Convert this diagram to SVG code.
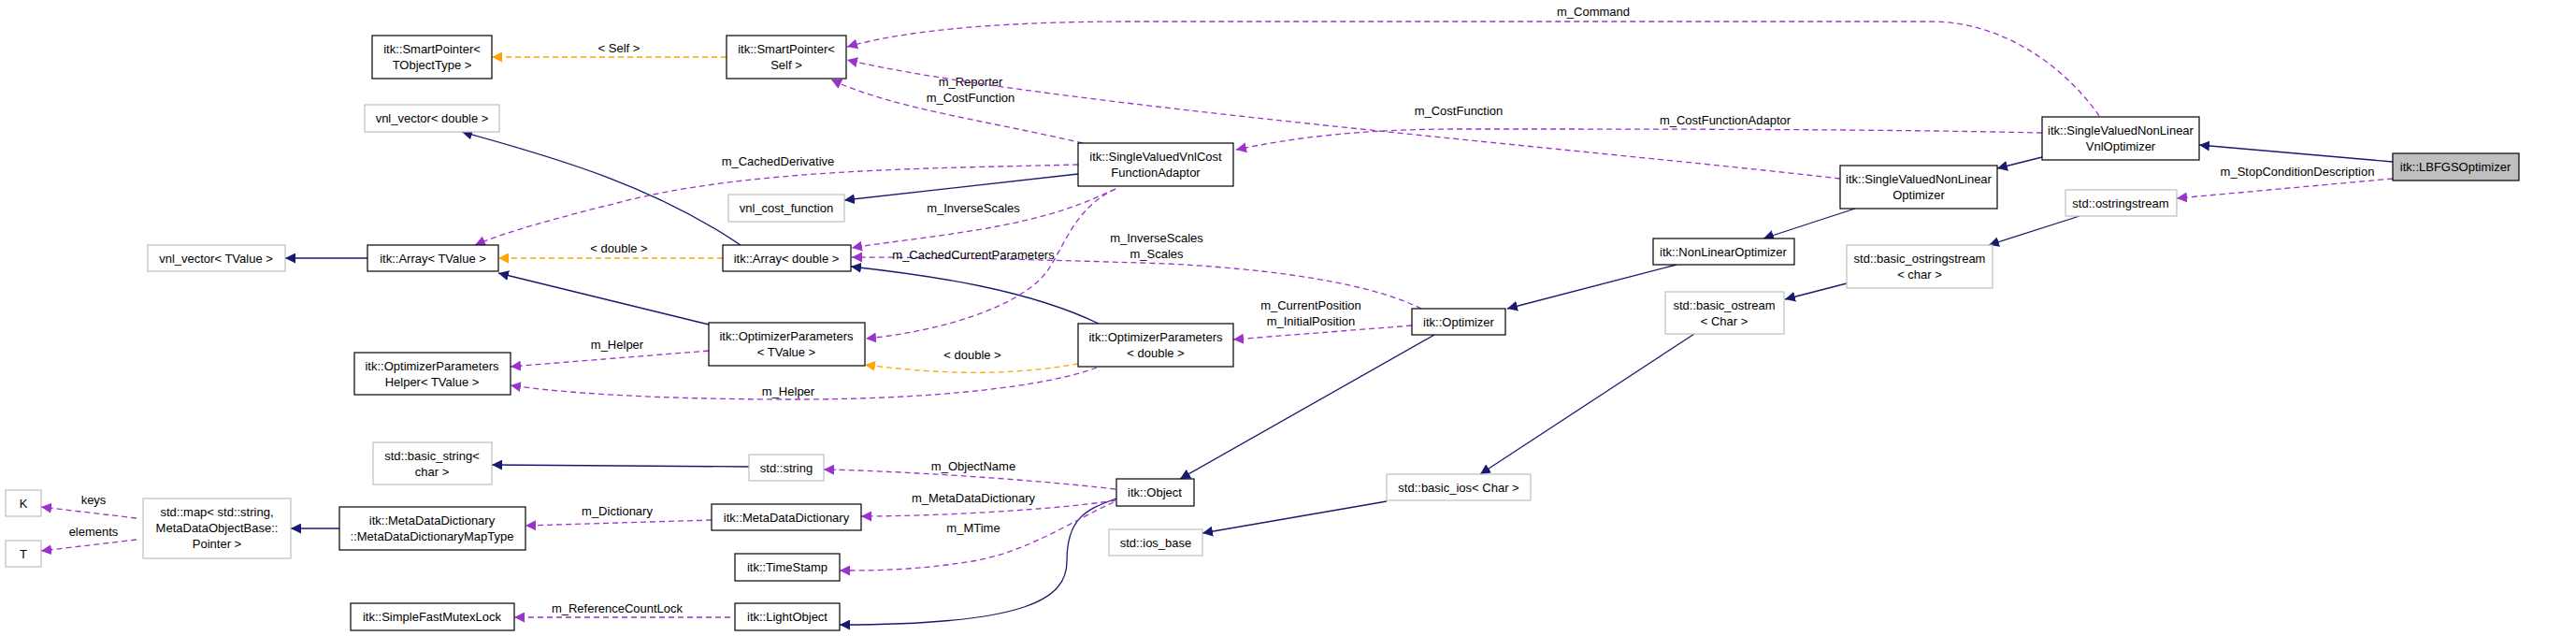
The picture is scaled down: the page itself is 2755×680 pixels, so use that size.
<svg xmlns="http://www.w3.org/2000/svg" width="2755" height="680" viewBox="0 0 2755 680">
<style>
text{font-family:"Liberation Sans",Arial,sans-serif;font-size:13px;fill:#000;text-anchor:middle}
.b{fill:#fff;stroke:#000;stroke-width:1.2}
.g{fill:#fff;stroke:#bfbfbf;stroke-width:1.2}
.s{fill:#bfbfbf;stroke:#000;stroke-width:1.2}
.n{fill:none;stroke:#191970;stroke-width:1.3;marker-end:url(#an)}
.p{fill:none;stroke:#9a32cd;stroke-width:1.3;stroke-dasharray:6,4;marker-end:url(#ap)}
.o{fill:none;stroke:#ffa500;stroke-width:1.3;stroke-dasharray:6,4;marker-end:url(#ao)}
</style>
<defs>
<marker id="an" viewBox="0 0 10 10" refX="10" refY="5" markerWidth="11" markerHeight="11" markerUnits="userSpaceOnUse" orient="auto"><path d="M0,0L10,5L0,10z" fill="#191970"/></marker>
<marker id="ap" viewBox="0 0 10 10" refX="10" refY="5" markerWidth="11" markerHeight="11" markerUnits="userSpaceOnUse" orient="auto"><path d="M0,0L10,5L0,10z" fill="#9a32cd"/></marker>
<marker id="ao" viewBox="0 0 10 10" refX="10" refY="5" markerWidth="11" markerHeight="11" markerUnits="userSpaceOnUse" orient="auto"><path d="M0,0L10,5L0,10z" fill="#ffa500"/></marker>
</defs>
<g id="connectors">
<path class="n" d="M2559,173L2352,155"/>
<path class="n" d="M2184,168L2136,180"/>
<path class="n" d="M1984,223L1886,255"/>
<path class="n" d="M1793,283L1612,330"/>
<path class="n" d="M1534,358L1262,512"/>
<path class="n" d="M1194,533C1160,545 1141,555 1141,600C1141,640 1100,668 898,668"/>
<path class="n" d="M2224,231L2127,262"/>
<path class="n" d="M1975,303L1909,320"/>
<path class="n" d="M1812,357L1583,507"/>
<path class="n" d="M1483,536L1286,570"/>
<path class="n" d="M1153,186L903,214"/>
<path class="n" d="M792,262C700,200 600,170 494,141"/>
<path class="n" d="M393,276L305,276"/>
<path class="n" d="M758,347L533,292"/>
<path class="n" d="M1175,346C1100,310 1000,295 910,285"/>
<path class="n" d="M801,499L526,497"/>
<path class="n" d="M363,565L311,565"/>
<path class="o" d="M777,61L526,61"/><text x="662" y="56">&lt; Self &gt;</text>
<path class="o" d="M773,276L533,276"/><text x="662" y="270">&lt; double &gt;</text>
<path class="o" d="M1153,389C1100,398 1034,404 925,390"/><text x="1040" y="384">&lt; double &gt;</text>
<path class="p" d="M2245,124C2215,80 2150,23 2064,23L1210,23C1050,23 960,35 906,50"/><text x="1704" y="17">m_Command</text>
<path class="p" d="M1158,153C1060,130 950,115 889,85"/><text x="1038" y="92">m_Reporter</text><text x="1038" y="109">m_CostFunction</text>
<path class="p" d="M1968,191C1700,160 1100,110 906,64"/><text x="1560" y="123">m_CostFunction</text>
<path class="p" d="M2184,142C2000,138 1800,138 1560,138C1450,138 1380,148 1322,160"/><text x="1845" y="133">m_CostFunctionAdaptor</text>
<path class="p" d="M1153,176C1000,180 800,180 660,217C600,232 540,248 508,262"/><text x="832" y="177">m_CachedDerivative</text>
<path class="p" d="M1193,202C1150,222 1118,233 1050,245C990,255 940,260 911,265"/><text x="1041" y="227">m_InverseScales</text>
<path class="p" d="M1520,330C1480,310 1400,290 1250,282C1100,277 980,275 911,275"/><text x="1237" y="259">m_InverseScales</text><text x="1237" y="276">m_Scales</text>
<path class="p" d="M1193,202C1150,222 1140,260 1120,290C1090,330 1000,355 926,362"/><text x="1041" y="277">m_CachedCurrentParameters</text>
<path class="p" d="M1510,348L1319,363"/><text x="1402" y="331">m_CurrentPosition</text><text x="1402" y="348">m_InitialPosition</text>
<path class="p" d="M758,375L546,392"/><text x="660" y="373">m_Helper</text>
<path class="p" d="M1173,393C1120,413 1000,427 850,427C700,427 600,420 546,412"/><text x="843" y="423">m_Helper</text>
<path class="p" d="M1193,523C1100,512 950,503 881,502"/><text x="1041" y="503">m_ObjectName</text>
<path class="p" d="M1193,535C1130,545 1000,552 921,552"/><text x="1041" y="537">m_MetaDataDictionary</text>
<path class="p" d="M1191,537C1150,555 1100,590 1040,600C980,610 930,610 898,610"/><text x="1041" y="569">m_MTime</text>
<path class="p" d="M761,556L562,562"/><text x="660" y="551">m_Dictionary</text>
<path class="p" d="M781,660L550,660"/><text x="660" y="655">m_ReferenceCountLock</text>
<path class="p" d="M146,554L44,542"/><text x="100" y="539">keys</text>
<path class="p" d="M146,577L44,589"/><text x="100" y="573">elements</text>
<path class="p" d="M2559,191L2328,212"/><text x="2457" y="188">m_StopConditionDescription</text>
</g>
<g id="n_lbfgs"><rect class="s" x="2559" y="164" width="135" height="29"/><text x="2626" y="183">itk::LBFGSOptimizer</text></g>
<g id="n_vnlopt"><rect class="b" x="2184" y="125" width="168" height="46"/><text x="2268" y="144">itk::SingleValuedNonLinear</text><text x="2268" y="161">VnlOptimizer</text></g>
<g id="n_svnlopt"><rect class="b" x="1968" y="177" width="168" height="46"/><text x="2052" y="196">itk::SingleValuedNonLinear</text><text x="2052" y="213">Optimizer</text></g>
<g id="n_nlopt"><rect class="b" x="1768" y="255" width="151" height="28"/><text x="1843" y="274">itk::NonLinearOptimizer</text></g>
<g id="n_ostr"><rect class="g" x="2209" y="203" width="119" height="28"/><text x="2268" y="222">std::ostringstream</text></g>
<g id="n_bostr"><rect class="g" x="1975" y="262" width="156" height="46"/><text x="2053" y="281">std::basic_ostringstream</text><text x="2053" y="298">&lt; char &gt;</text></g>
<g id="n_bos"><rect class="g" x="1781" y="312" width="127" height="45"/><text x="1844" y="331">std::basic_ostream</text><text x="1844" y="348">&lt; Char &gt;</text></g>
<g id="n_opt"><rect class="b" x="1510" y="330" width="100" height="28"/><text x="1560" y="349">itk::Optimizer</text></g>
<g id="n_bios"><rect class="g" x="1483" y="507" width="154" height="28"/><text x="1560" y="526">std::basic_ios&lt; Char &gt;</text></g>
<g id="n_iosb"><rect class="g" x="1186" y="566" width="100" height="28"/><text x="1236" y="585">std::ios_base</text></g>
<g id="n_obj"><rect class="b" x="1194" y="512" width="83" height="29"/><text x="1235" y="531">itk::Object</text></g>
<g id="n_adaptor"><rect class="b" x="1153" y="153" width="166" height="46"/><text x="1236" y="172">itk::SingleValuedVnlCost</text><text x="1236" y="189">FunctionAdaptor</text></g>
<g id="n_opd"><rect class="b" x="1153" y="346" width="166" height="46"/><text x="1236" y="365">itk::OptimizerParameters</text><text x="1236" y="382">&lt; double &gt;</text></g>
<g id="n_sps"><rect class="b" x="777" y="38" width="128" height="46"/><text x="841" y="57">itk::SmartPointer&lt;</text><text x="841" y="74"> Self &gt;</text></g>
<g id="n_spt"><rect class="b" x="398" y="38" width="128" height="46"/><text x="462" y="57">itk::SmartPointer&lt;</text><text x="462" y="74"> TObjectType &gt;</text></g>
<g id="n_vvd"><rect class="g" x="390" y="112" width="144" height="29"/><text x="462" y="131">vnl_vector&lt; double &gt;</text></g>
<g id="n_vcf"><rect class="g" x="779" y="208" width="124" height="29"/><text x="841" y="227">vnl_cost_function</text></g>
<g id="n_vvt"><rect class="g" x="158" y="262" width="147" height="28"/><text x="231" y="281">vnl_vector&lt; TValue &gt;</text></g>
<g id="n_at"><rect class="b" x="393" y="262" width="140" height="28"/><text x="463" y="281">itk::Array&lt; TValue &gt;</text></g>
<g id="n_ad"><rect class="b" x="773" y="262" width="137" height="28"/><text x="841" y="281">itk::Array&lt; double &gt;</text></g>
<g id="n_opt_t"><rect class="b" x="758" y="345" width="167" height="46"/><text x="841" y="364">itk::OptimizerParameters</text><text x="841" y="381">&lt; TValue &gt;</text></g>
<g id="n_oph"><rect class="b" x="379" y="377" width="167" height="45"/><text x="462" y="396">itk::OptimizerParameters</text><text x="462" y="413">Helper&lt; TValue &gt;</text></g>
<g id="n_bsc"><rect class="g" x="399" y="473" width="127" height="45"/><text x="462" y="492">std::basic_string&lt;</text><text x="462" y="509"> char &gt;</text></g>
<g id="n_str"><rect class="g" x="801" y="486" width="80" height="28"/><text x="841" y="505">std::string</text></g>
<g id="n_K"><rect class="g" x="6" y="524" width="38" height="28"/><text x="25" y="543">K</text></g>
<g id="n_T"><rect class="g" x="6" y="578" width="38" height="28"/><text x="25" y="597">T</text></g>
<g id="n_map"><rect class="g" x="153" y="533" width="158" height="64"/><text x="232" y="552">std::map&lt; std::string,</text><text x="232" y="569"> MetaDataObjectBase::</text><text x="232" y="586">Pointer &gt;</text></g>
<g id="n_mdmt"><rect class="b" x="363" y="542" width="199" height="46"/><text x="462" y="561">itk::MetaDataDictionary</text><text x="462" y="578">::MetaDataDictionaryMapType</text></g>
<g id="n_mdd"><rect class="b" x="761" y="539" width="160" height="28"/><text x="841" y="558">itk::MetaDataDictionary</text></g>
<g id="n_ts"><rect class="b" x="786" y="592" width="112" height="29"/><text x="842" y="611">itk::TimeStamp</text></g>
<g id="n_sfml"><rect class="b" x="375" y="645" width="175" height="29"/><text x="462" y="664">itk::SimpleFastMutexLock</text></g>
<g id="n_lo"><rect class="b" x="786" y="645" width="112" height="29"/><text x="842" y="664">itk::LightObject</text></g>
</svg>
